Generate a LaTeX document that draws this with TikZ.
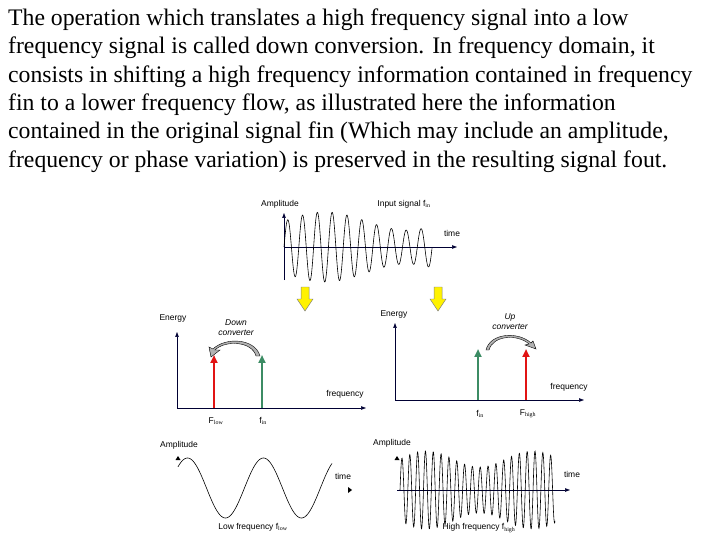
\documentclass[tikz,border=0pt]{standalone}
\usepackage{fontspec}
\setmainfont{Liberation Serif}
\newfontfamily\arialf{Liberation Sans}
\usetikzlibrary{arrows.meta}
\definecolor{sgreen}{RGB}{60,140,100}
\definecolor{sred}{RGB}{225,20,20}
\begin{document}
\begin{tikzpicture}[x=1bp,y=-1bp,
  lbl/.style={font=\arialf\fontsize{8.5}{10}\selectfont,inner sep=0pt},
  txt/.style={font=\fontsize{23.8}{28}\selectfont,anchor=west,inner sep=0pt},
  ax/.style={line width=0.6pt,-{Triangle[length=5pt,width=3.5pt]},draw=black!80!blue},
  sig/.style={line width=0.6pt},
  yel/.style={fill=yellow,draw=gray,line width=0.5pt},
  spec/.style={line width=2.2pt,-{Triangle[length=8pt,width=7pt]}}]
\useasboundingbox (0,0) rectangle (720,540);
\node[txt] (t1) at (8,20) {The operation which translates a high frequency signal into a low};
\node[txt] (t2) at (8,48) {frequency signal is called down conversion. In frequency domain, it};
\node[txt] (t3) at (8,77) {consists in shifting a high frequency information contained in frequency};
\node[txt] (t4) at (8,105) {fin to a lower frequency flow, as illustrated here the information};
\node[txt] (t5) at (8,133) {contained in the original signal fin (Which may include an amplitude,};
\node[txt] (t6) at (8,162) {frequency or phase variation) is preserved in the resulting signal fout.};
% top signal
\coordinate (ta0) at (284,280); \coordinate (ta1) at (284,213);
\coordinate (th0) at (284,247); \coordinate (th1) at (457,247);
\draw[ax] (ta0) -- (ta1);
\draw[ax] (th0) -- (th1);
\draw[sig,domain=0:148,samples=400,smooth] plot ({284+\x},{247-(26+9*sin(\x*2.2))*sin(\x*24.3)});
\node[lbl] (amp0) at (280,204) {Amplitude};
\node[lbl] (ins) at (404,204) {Input signal f$_{\mathrm{in}}$};
\node[lbl] (tm0) at (452,233) {time};
% yellow arrows
\foreach \xx/\nm in {305/ya,438/yb}{
 \draw[yel] (\xx-4,287) -- (\xx+4,287) -- (\xx+4,299) -- (\xx+8,299) -- (\xx,311) -- (\xx-8,299) -- (\xx-4,299) -- cycle;}
% left spectrum
\coordinate (la0) at (177,408); \coordinate (la1) at (177,332);
\coordinate (lh1) at (366,408);
\draw[ax] (la0) -- (la1);
\draw[ax] (la0) -- (lh1);
\coordinate (r1a) at (214,408); \coordinate (r1b) at (214,355);
\coordinate (g1a) at (262,408); \coordinate (g1b) at (262,355);
\draw[spec,sred] (r1a) -- (r1b);
\draw[spec,sgreen] (g1a) -- (g1b);
\draw[fill=gray!60,line width=0.4pt] (256,356) .. controls (252,341) and (225,340) .. (215,350) -- (220,350) -- (211,357) -- (209,347) -- (213,349) .. controls (225,337) and (255,338) .. (260,356) -- cycle;
\node[lbl] (en1) at (173,318) {Energy};
\node[lbl,align=center,font=\arialf\itshape\fontsize{8.5}{10}\selectfont] (dc) at (236,328) {Down\\converter};
\node[lbl] (fr1) at (345,394) {frequency};
\node[lbl] (flow) at (216,421) {F$_{\mathrm{low}}$};
\node[lbl] (fin1) at (263,421) {f$_{\mathrm{in}}$};
% right spectrum
\coordinate (ra0) at (395,400); \coordinate (ra1) at (395,323);
\coordinate (rh1) at (584,400);
\draw[ax] (ra0) -- (ra1);
\draw[ax] (ra0) -- (rh1);
\coordinate (g2a) at (478,400); \coordinate (g2b) at (478,349);
\coordinate (r2a) at (526,400); \coordinate (r2b) at (526,349);
\draw[spec,sgreen] (g2a) -- (g2b);
\draw[spec,sred] (r2a) -- (r2b);
\draw[fill=gray!60,line width=0.4pt] (489,350) .. controls (493,335) and (518,334) .. (529,344) -- (525,345) -- (536,349) -- (533,341) -- (531,343) .. controls (518,331) and (490,333) .. (486,350) -- cycle;
\node[lbl] (en2) at (394,314) {Energy};
\node[lbl,align=center,font=\arialf\itshape\fontsize{8.5}{10}\selectfont] (uc) at (510,322) {Up\\converter};
\node[lbl] (fr2) at (569,387) {frequency};
\node[lbl] (fin2) at (480,414) {f$_{\mathrm{in}}$};
\node[lbl] (fhi) at (528,414) {F$_{\mathrm{high}}$};
% bottom left
\node[lbl] (amp1) at (179,445) {Amplitude};
\fill (175.5,460) -- (180.5,460) -- (178,456) -- cycle;
\draw[sig,domain=0:154,samples=200,smooth] plot ({178+\x},{488-30*sin((\x-0)*4.74+45)});
\fill (348,487) -- (348,493) -- (352,490) -- cycle;
\node[lbl] (tm1) at (343,476) {time};
\node[lbl] (lf) at (253,527) {Low frequency f$_{\mathrm{low}}$};
% bottom right
\node[lbl] (amp2) at (392,443) {Amplitude};
\fill (394.5,460) -- (399.5,460) -- (397,456) -- cycle;
\coordinate (bh0) at (397,490); \coordinate (bh1) at (570,490);
\draw[ax] (bh0) -- (bh1);
\draw[sig,domain=0:155,samples=600,smooth] plot ({400+\x},{490-(31+8*sin(\x*3.4))*sin(\x*46)});
\node[lbl] (tm2) at (572,474) {time};
\node[lbl] (hf) at (479,528) {High frequency f$_{\mathrm{high}}$};
\end{tikzpicture}
\end{document}
